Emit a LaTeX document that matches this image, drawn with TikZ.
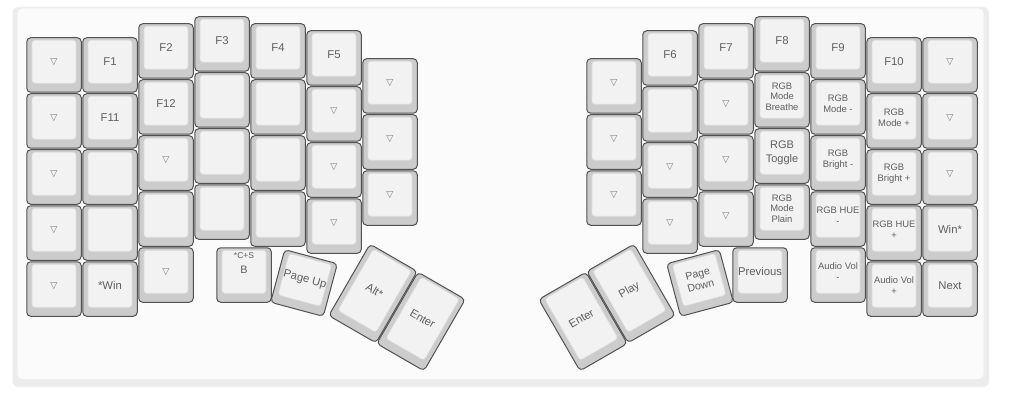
\documentclass[tikz,border=0pt]{standalone}
\usepackage{fontspec}
\setmainfont{Liberation Sans}
\newfontfamily\symfont{DejaVu Sans}
\definecolor{keyborder}{HTML}{525252}
\definecolor{keyside}{HTML}{CCCCCC}
\definecolor{keytop}{HTML}{F2F2F2}
\definecolor{keytopedge}{HTML}{DDDDDD}
\definecolor{keytext}{HTML}{5E5E5E}
\definecolor{keytri}{HTML}{7A7A7A}
\definecolor{plateband}{HTML}{ECECEC}
\definecolor{platefill}{HTML}{FBFBFB}
\tikzset{
  keyouter/.style={draw=keyborder, fill=keyside, line width=1pt, rounded corners=4pt,
    minimum width=54.5pt, inner sep=0pt, transform shape},
  keyinner/.style={fill=keytop, draw=keytopedge, line width=0.6pt, rounded corners=3pt},
  keylabel/.style={text=keytext, font=\fontsize{11.3}{13}\selectfont, align=center,
    inner sep=0pt, transform shape},
  smalllabel/.style={keylabel, font=\fontsize{9.4}{10.6}\selectfont},
  togglelabel/.style={keylabel, font=\fontsize{11}{13.3}\selectfont},
  pagelabel/.style={keylabel, font=\fontsize{10.6}{12}\selectfont},
  bkeylabel/.style={keylabel, font=\fontsize{10.8}{13}\selectfont, yshift=1.5pt},
  toplegend/.style={keylabel, font=\fontsize{8.5}{10}\selectfont},
  tri/.style={keylabel, text=keytri, font=\symfont\fontsize{9.2}{10}\selectfont},
}
\newcommand\kbkey[7][keylabel]{%
  \begin{scope}[shift={(#3,#4)},rotate=#5]
    \pgfmathsetmacro\kbh{#6/2+0.5}%
    \node[keyouter,minimum height=#6pt] (#2) at (0,0) {};
    \fill[keyinner] (-22,-\kbh+3) rectangle (22,\kbh-9.5);
    \node[#1] (#2-l) at (0,-3.25) {#7};
  \end{scope}}
\begin{document}
\begin{tikzpicture}[x=1pt,y=-1pt]
\useasboundingbox (0,0) rectangle (1012,401);
% plate
\fill[plateband, rounded corners=6pt] (12.5,7) rectangle (989,387);
\fill[platefill, rounded corners=5pt] (17.5,8.5) rectangle (983.5,379);
% ---------- left half ----------
% col 0
\kbkey[tri]{La1}{54}{65}{0}{54.5}{▽}
\kbkey[tri]{La2}{54}{121}{0}{54.5}{▽}
\kbkey[tri]{La3}{54}{177}{0}{54.5}{▽}
\kbkey[tri]{La4}{54}{233}{0}{54.5}{▽}
\kbkey[tri]{La5}{54}{289}{0}{54.5}{▽}
% col 1
\kbkey{Lb1}{110}{65}{0}{54.5}{F1}
\kbkey{Lb2}{110}{121}{0}{54.5}{F11}
\kbkey{Lb3}{110}{177}{0}{54.5}{}
\kbkey{Lb4}{110}{233}{0}{54.5}{}
\kbkey{Lb5}{110}{289}{0}{54.5}{*Win}
% col 2
\kbkey{Lc1}{166}{51}{0}{54.5}{F2}
\kbkey{Lc2}{166}{107}{0}{54.5}{F12}
\kbkey[tri]{Lc3}{166}{163}{0}{54.5}{▽}
\kbkey{Lc4}{166}{219}{0}{54.5}{}
\kbkey[tri]{Lc5}{166}{275}{0}{54.5}{▽}
% col 3
\kbkey{Ld1}{222}{44}{0}{54.5}{F3}
\kbkey{Ld2}{222}{100}{0}{54.5}{}
\kbkey{Ld3}{222}{156}{0}{54.5}{}
\kbkey{Ld4}{222}{212}{0}{54.5}{}
% col 4
\kbkey{Le1}{278}{51}{0}{54.5}{F4}
\kbkey{Le2}{278}{107}{0}{54.5}{}
\kbkey{Le3}{278}{163}{0}{54.5}{}
\kbkey{Le4}{278}{219}{0}{54.5}{}
% col 5
\kbkey{Lf1}{334}{58}{0}{54.5}{F5}
\kbkey[tri]{Lf2}{334}{114}{0}{54.5}{▽}
\kbkey[tri]{Lf3}{334}{170}{0}{54.5}{▽}
\kbkey[tri]{Lf4}{334}{226}{0}{54.5}{▽}
% col 6
\kbkey[tri]{Lg1}{390}{86}{0}{54.5}{▽}
\kbkey[tri]{Lg2}{390}{142}{0}{54.5}{▽}
\kbkey[tri]{Lg3}{390}{198}{0}{54.5}{▽}
% thumbs
\kbkey[bkeylabel]{Lt1}{244}{275}{0}{54.5}{B}
\node[toplegend] (Lt1-top) at (244,255.5) {*C+S};
\kbkey{Lt2}{304}{283}{-15}{54.5}{Page Up}
\kbkey{Lt3}{373}{293.5}{-30}{82.5}{Alt*}
\kbkey{Lt4}{421}{321.5}{-30}{82.5}{Enter}
% ---------- right half ----------
% col 6 (inner)
\kbkey[tri]{Rg1}{614}{86}{0}{54.5}{▽}
\kbkey[tri]{Rg2}{614}{142}{0}{54.5}{▽}
\kbkey[tri]{Rg3}{614}{198}{0}{54.5}{▽}
% col 5
\kbkey{Rf1}{670}{58}{0}{54.5}{F6}
\kbkey{Rf2}{670}{114}{0}{54.5}{}
\kbkey[tri]{Rf3}{670}{170}{0}{54.5}{▽}
\kbkey[tri]{Rf4}{670}{226}{0}{54.5}{▽}
% col 4
\kbkey{Re1}{726}{51}{0}{54.5}{F7}
\kbkey[tri]{Re2}{726}{107}{0}{54.5}{▽}
\kbkey[tri]{Re3}{726}{163}{0}{54.5}{▽}
\kbkey[tri]{Re4}{726}{219}{0}{54.5}{▽}
% col 3
\kbkey{Rd1}{782}{44}{0}{54.5}{F8}
\kbkey[smalllabel]{Rd2}{782}{100}{0}{54.5}{RGB\\Mode\\Breathe}
\kbkey[togglelabel]{Rd3}{782}{156}{0}{54.5}{RGB\\Toggle}
\kbkey[smalllabel]{Rd4}{782}{212}{0}{54.5}{RGB\\Mode\\Plain}
% col 2
\kbkey{Rc1}{838}{51}{0}{54.5}{F9}
\kbkey[smalllabel]{Rc2}{838}{107}{0}{54.5}{RGB\\Mode -}
\kbkey[smalllabel]{Rc3}{838}{163}{0}{54.5}{RGB\\Bright -}
\kbkey[smalllabel]{Rc4}{838}{219}{0}{54.5}{RGB HUE\\-}
\kbkey[smalllabel]{Rc5}{838}{275}{0}{54.5}{Audio Vol\\-}
% col 1
\kbkey{Rb1}{894}{65}{0}{54.5}{F10}
\kbkey[smalllabel]{Rb2}{894}{121}{0}{54.5}{RGB\\Mode +}
\kbkey[smalllabel]{Rb3}{894}{177}{0}{54.5}{RGB\\Bright +}
\kbkey[smalllabel]{Rb4}{894}{233}{0}{54.5}{RGB HUE\\+}
\kbkey[smalllabel]{Rb5}{894}{289}{0}{54.5}{Audio Vol\\+}
% col 0
\kbkey[tri]{Ra1}{950}{65}{0}{54.5}{▽}
\kbkey[tri]{Ra2}{950}{121}{0}{54.5}{▽}
\kbkey[tri]{Ra3}{950}{177}{0}{54.5}{▽}
\kbkey{Ra4}{950}{233}{0}{54.5}{Win*}
\kbkey{Ra5}{950}{289}{0}{54.5}{Next}
% thumbs
\kbkey{Rt1}{760}{275}{0}{54.5}{Previous}
\kbkey[pagelabel]{Rt2}{700}{283}{15}{54.5}{Page\\Down}
\kbkey{Rt3}{631}{293.5}{30}{82.5}{Play}
\kbkey{Rt4}{583}{321.5}{30}{82.5}{Enter}
\end{tikzpicture}
\end{document}
